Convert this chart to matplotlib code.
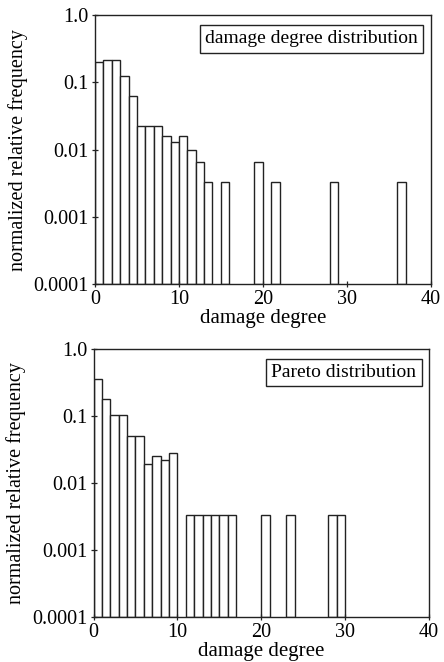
import numpy as np
import matplotlib.pyplot as plt
from matplotlib.ticker import FixedLocator, FixedFormatter, NullLocator

# bin left edges (width 1) and normalized relative frequency per bin
damage_bins = [0, 1, 2, 3, 4, 5, 6, 7, 8, 9, 10, 11, 12, 13, 15, 19, 21, 28, 36]
damage_freq = [0.20, 0.216, 0.216, 0.123, 0.063, 0.0222, 0.0222, 0.0222,
               0.0159, 0.0129, 0.0159, 0.0097, 0.0064, 0.0032, 0.0032,
               0.0064, 0.0032, 0.0032, 0.0032]

pareto_bins = [0, 1, 2, 3, 4, 5, 6, 7, 8, 9, 11, 12, 13, 14, 15, 16, 20, 23, 28, 29]
pareto_freq = [0.364, 0.183, 0.105, 0.105, 0.051, 0.051, 0.019, 0.0257,
               0.0223, 0.0284, 0.0032, 0.0032, 0.0032, 0.0032, 0.0032,
               0.0032, 0.0032, 0.0032, 0.0032, 0.0032]

y_ticks = [1.0, 0.1, 0.01, 0.001, 0.0001]
y_labels = ["1.0", "0.1", "0.01", "0.001", "0.0001"]
x_ticks = [0, 10, 20, 30, 40]

plt.rcParams['font.family'] = ['Liberation Serif', 'DejaVu Serif']
fs = 14.5

fig = plt.figure(figsize=(4.44, 6.62), dpi=100)
W, H = 444.0, 662.0
ax1 = fig.add_axes([95 / W, 1 - 284 / H, 335.7 / W, 268.7 / H])
ax2 = fig.add_axes([93.5 / W, 1 - 617 / H, 335.5 / W, 267.7 / H])

edge = "#222222"

def draw(ax, bins, freq, title):
    ax.bar(bins, freq, width=1.0, align='edge', bottom=0.0001,
           facecolor='white', edgecolor=edge, linewidth=1.0)
    ax.set_yscale('log')
    ax.set_ylim(0.0001, 1.0)
    ax.set_xlim(0, 40)
    ax.yaxis.set_major_locator(FixedLocator(y_ticks))
    ax.yaxis.set_major_formatter(FixedFormatter(y_labels))
    ax.yaxis.set_minor_locator(NullLocator())
    ax.set_xticks(x_ticks)
    ax.tick_params(direction='inout', length=5, width=0.9, color=edge,
                   labelsize=fs, pad=2)
    for s in ax.spines.values():
        s.set_color(edge)
        s.set_linewidth(1.0)
    ax.set_xlabel("damage degree", fontsize=fs + 0.5, labelpad=0)
    ax.set_ylabel("normalized relative frequency", fontsize=fs, labelpad=4)
    ax.text(0.962, 0.945, title, transform=ax.transAxes, ha='right', va='top',
            fontsize=14,
            bbox=dict(boxstyle='square,pad=0.28', facecolor='white',
                      edgecolor=edge, linewidth=1.0))

draw(ax1, damage_bins, damage_freq, "damage degree distribution")
draw(ax2, pareto_bins, pareto_freq, "Pareto distribution")

fig.savefig("out.png", dpi=100)
